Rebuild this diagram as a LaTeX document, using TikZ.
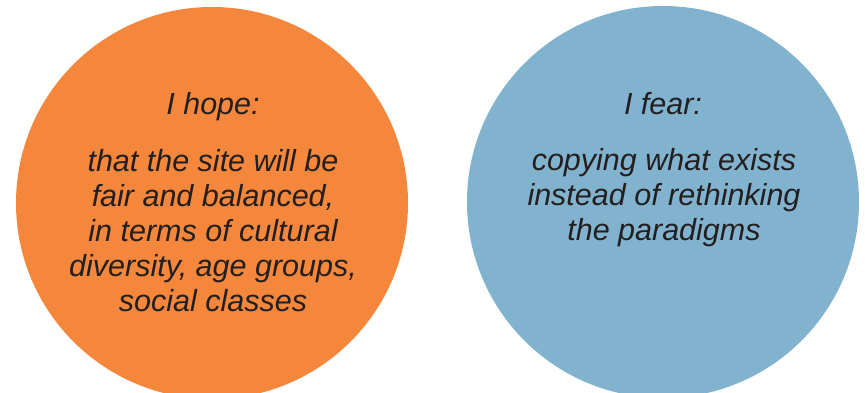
\documentclass[tikz,border=0pt]{standalone}
\usepackage{fontspec}
\setmainfont{Liberation Sans}
\definecolor{hopeorange}{RGB}{244,135,59}
\definecolor{fearblue}{RGB}{130,179,206}
\definecolor{textdark}{RGB}{35,31,32}
\usetikzlibrary{positioning}

\begin{document}
\begin{tikzpicture}[x=1pt, y=1pt,
    bubble/.style={circle, minimum size=392pt, inner sep=0pt},
    headtext/.style={font=\fontsize{30.5}{35}\selectfont\itshape, text=textdark,
                     anchor=base, inner sep=0pt},
    bodytext/.style={headtext, align=center}
  ]
    \useasboundingbox (0,0) rectangle (865,393);

    % Circles
    \node[bubble, fill=hopeorange] (hope) at (212,190) {};
    \node[bubble, fill=fearblue] (fear) at (663,191) {};

    % Left circle text (base = last line)
    \node[headtext] (hopehead) at (213,278) {I hope:};
    \node[bodytext] (hopebody) at (213,81) {that the site will be\\fair and balanced,\\in terms of cultural\\diversity, age groups,\\social classes};

    % Right circle text
    \node[headtext] (fearhead) at (663,278) {I fear:};
    \node[bodytext] (fearbody) at (664,152) {copying what exists\\instead of rethinking\\the paradigms};
  \end{tikzpicture}
\end{document}
